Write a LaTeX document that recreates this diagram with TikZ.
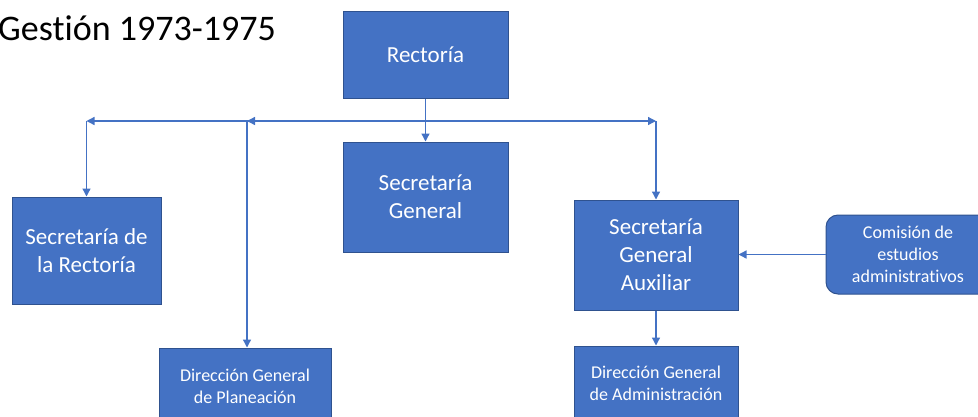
\documentclass[tikz,border=0pt]{standalone}
\usepackage{fontspec}
\setmainfont{Carlito}[Ligatures=NoCommon]
\usetikzlibrary{arrows.meta}
\definecolor{boxblue}{HTML}{4472C4}
\definecolor{boxedge}{HTML}{2F528F}
\definecolor{linkblue}{HTML}{4472C4}
\begin{document}
\begin{tikzpicture}[x=1pt,y=-1pt,
  unit/.style={draw=boxedge, line width=1pt, fill=boxblue, text=white, align=center, inner sep=0pt},
  big/.style={unit, font=\fontsize{23}{28}\selectfont},
  small/.style={unit, font=\fontsize{18}{22}\selectfont},
  link/.style={draw=linkblue, line width=1.3pt},
  tip/.style={-{Triangle[length=8pt,width=8pt]}}]
\clip (0,0) rectangle (978,416);

% title
\node[anchor=base west, inner sep=0pt, font=\fontsize{36}{40}\selectfont] (title) at (-2,40) {Gestión 1973-1975};

% boxes
\node[big, minimum width=165pt, minimum height=87pt] (rect) at (425.5,54.5) {Rectoría};
\node[big, minimum width=165pt, minimum height=110pt] (sg) at (425.5,197) {Secretaría\\General};
\node[big, minimum width=149pt, minimum height=107pt] (sr) at (86.5,250.5) {Secretaría de\\la Rectoría};
\node[small, minimum width=172pt, minimum height=76pt] (dgp) at (245,386) {Dirección General\\de Planeación};
\node[big, minimum width=164pt, minimum height=110pt] (sga) at (656,255) {Secretaría\\General\\Auxiliar};
\node[small, minimum width=164pt, minimum height=74pt] (dga) at (656,383) {Dirección General\\de Administración};

% rounded commission box, running past the right edge
\path[draw=boxedge, line width=1pt, fill=boxblue, rounded corners=12pt] (826,215) rectangle (1010,294);
\node[small, draw=none, fill=none, minimum width=164pt, minimum height=79pt] (com) at (908,254.5) {Comisión de\\estudios\\administrativos};

% branching bus below Rectoría
\coordinate (bus) at (425.5,121);
\coordinate (busL) at (86.5,121);
\coordinate (busM) at (247,121);
\coordinate (busR) at (656,121);

\draw[link,tip] (rect.south) -- (sg.north);
\draw[link,tip] (bus) -- (busL);
\draw[link,tip] (busL) -- (sr.north);
\draw[link,tip] (bus) -- (busM);
\draw[link,tip] (busM) -- (busM |- dgp.north);
\draw[link,tip] (bus) -- (busR);
\draw[link,tip] (busR) -- (sga.north);
\draw[link,tip] (sga.south) -- (dga.north);
\draw[link,tip] (com.west) -- (com.west -| sga.east);
\end{tikzpicture}
\end{document}
